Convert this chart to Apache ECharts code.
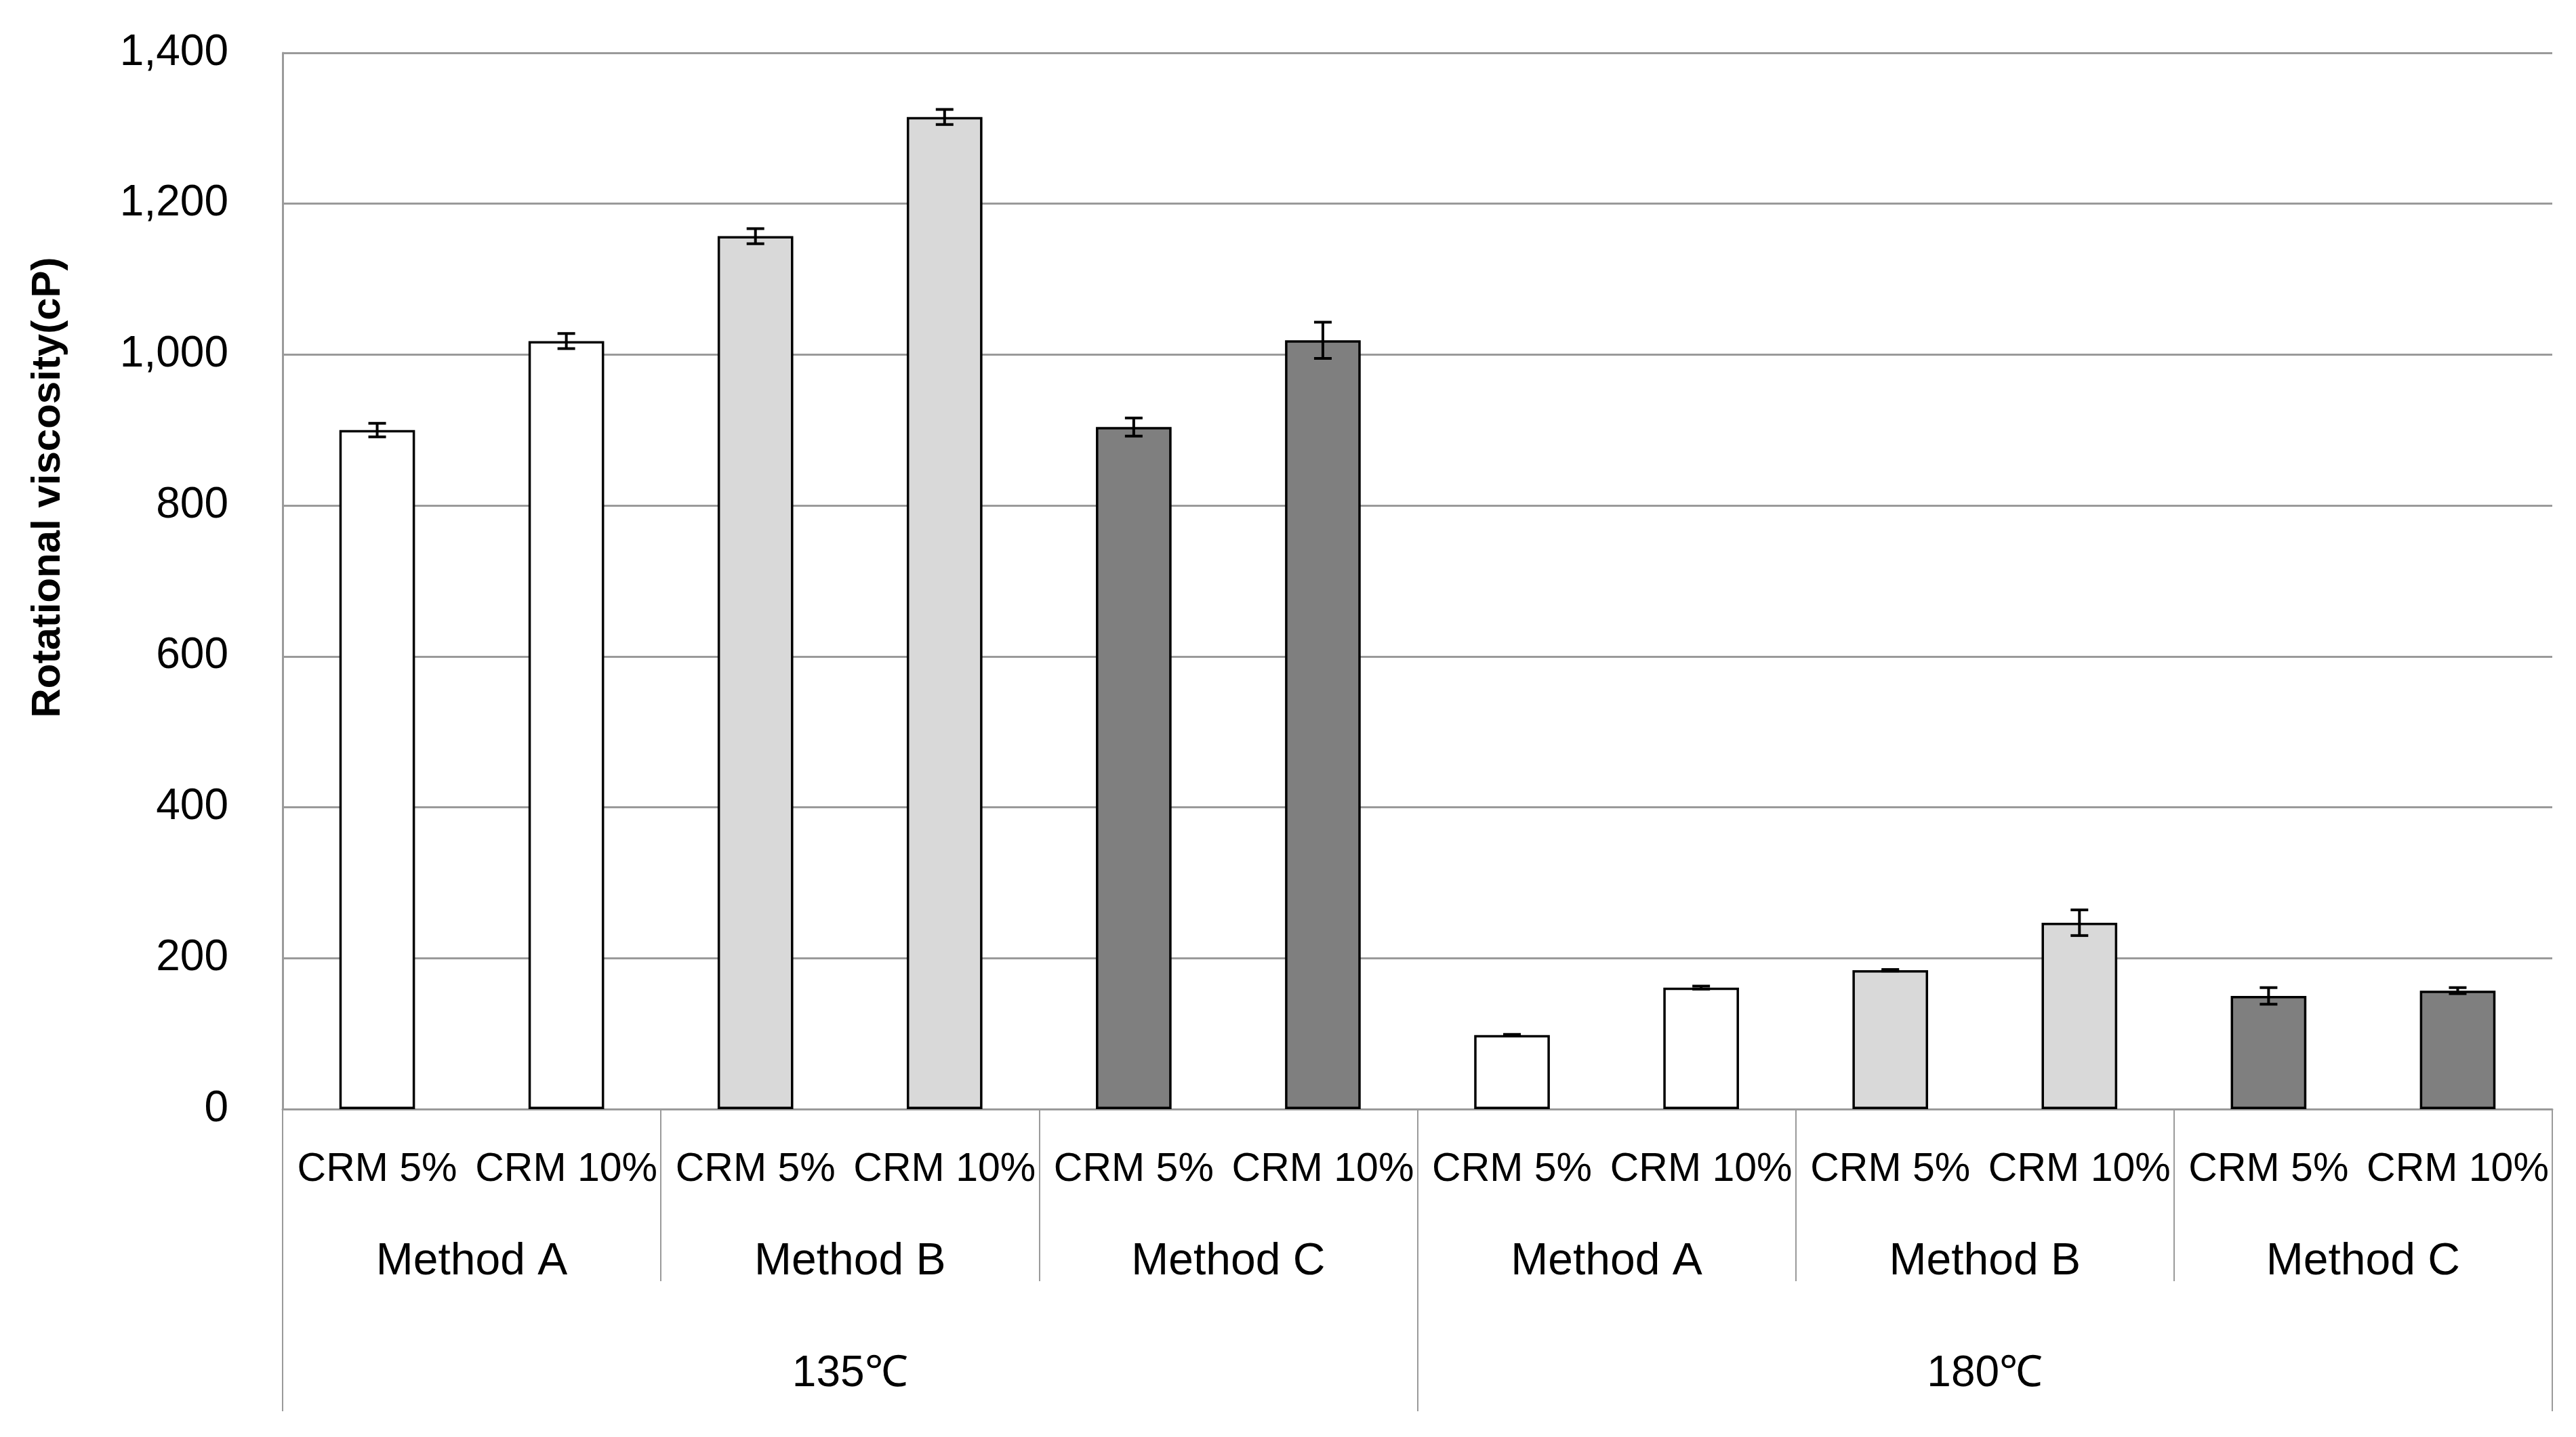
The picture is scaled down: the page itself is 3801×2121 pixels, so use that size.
<!DOCTYPE html>
<html>
<head>
<meta charset="utf-8">
<script src="https://cdn.jsdelivr.net/npm/echarts@6/dist/echarts.min.js"></script>
<style>
html,body{margin:0;padding:0;background:#fff;}
#chart{width:3801px;height:2121px;}
</style>
</head>
<body>
<div id="chart"></div>
<script>
// ---- data ----
const crmLabels = ['CRM 5%','CRM 10%','CRM 5%','CRM 10%','CRM 5%','CRM 10%','CRM 5%','CRM 10%','CRM 5%','CRM 10%','CRM 5%','CRM 10%'];
const methodLabels = ['Method A','Method B','Method C','Method A','Method B','Method C'];
const tempLabels = ['135\u2103','180\u2103'];
const viscosity = [900, 1018, 1157, 1315, 904, 1019, 98, 161, 184, 247, 150, 157];
const viscosityErr = [9, 10, 10, 10, 12, 24, 1, 2, 1, 17, 11, 4];
const yTicks = [0, 200, 400, 600, 800, 1000, 1200, 1400];

// ---- styles ----
const methodColors = ['#ffffff', '#d9d9d9', '#7f7f7f'];
const FONT = 'Liberation Sans';
const gridGray = '#9a9a9a';

const barData = viscosity.map((v, i) => ({
  value: v,
  itemStyle: { color: methodColors[Math.floor(i / 2) % 3] }
}));
const errData = viscosity.map((v, i) => [i, v, viscosityErr[i]]);

const chart = echarts.init(document.getElementById('chart'), null, {renderer: 'canvas'});
chart.setOption({
  animation: false,
  backgroundColor: '#ffffff',
  grid: { left: 417, right: 35, top: 78, bottom: 484, containLabel: false },
  xAxis: [
    {
      type: 'category', data: crmLabels, gridIndex: 0, position: 'bottom',
      axisLine: { show: true, lineStyle: { color: gridGray, width: 3 } },
      axisTick: { show: false },
      axisLabel: { interval: 0, margin: 60, fontFamily: FONT, fontSize: 59, color: '#000' },
      splitLine: { show: false }
    },
    {
      type: 'category', data: methodLabels, gridIndex: 0, position: 'bottom',
      axisLine: { show: false },
      axisTick: { show: true, interval: 0, length: 254, lineStyle: { color: gridGray, width: 2 } },
      axisLabel: { interval: 0, margin: 193, fontFamily: FONT, fontSize: 66, color: '#000' },
      splitLine: { show: false }
    },
    {
      type: 'category', data: tempLabels, gridIndex: 0, position: 'bottom',
      axisLine: { show: false },
      axisTick: { show: true, interval: 0, length: 446, lineStyle: { color: gridGray, width: 2 } },
      axisLabel: { interval: 0, margin: 359, fontFamily: FONT, fontSize: 64, color: '#000' },
      splitLine: { show: false }
    }
  ],
  yAxis: {
    type: 'value', min: yTicks[0], max: yTicks[yTicks.length - 1], interval: 200,
    name: 'Rotational viscosity(cP)', nameLocation: 'middle', nameGap: 316, nameRotate: 90,
    nameTextStyle: { fontFamily: FONT, fontSize: 60, fontWeight: 'bold', color: '#000', padding: [0, 0, 0, 276] },
    axisLine: { show: true, lineStyle: { color: gridGray, width: 3 } },
    axisTick: { show: false },
    axisLabel: {
      margin: 80, fontFamily: FONT, fontSize: 64, color: '#000',
      formatter: v => v.toLocaleString('en-US')
    },
    splitLine: { show: true, lineStyle: { color: gridGray, width: 3 } }
  },
  series: [
    {
      type: 'bar', xAxisIndex: 0, data: barData, barWidth: '40%',
      itemStyle: { borderColor: '#000', borderWidth: 3.5 }
    },
    {
      type: 'custom', xAxisIndex: 0, data: errData, z: 10,
      renderItem: function (params, api) {
        const x = api.value(0), v = api.value(1), e = api.value(2);
        const hi = api.coord([x, v + e]);
        const lo = api.coord([x, v - e]);
        const half = 13;
        const style = { stroke: '#000', lineWidth: 4 };
        return {
          type: 'group',
          children: [
            { type: 'line', shape: { x1: hi[0], y1: hi[1], x2: lo[0], y2: lo[1] }, style: style },
            { type: 'line', shape: { x1: hi[0] - half, y1: hi[1], x2: hi[0] + half, y2: hi[1] }, style: style },
            { type: 'line', shape: { x1: lo[0] - half, y1: lo[1], x2: lo[0] + half, y2: lo[1] }, style: style }
          ]
        };
      }
    }
  ]
});
</script>
</body>
</html>
